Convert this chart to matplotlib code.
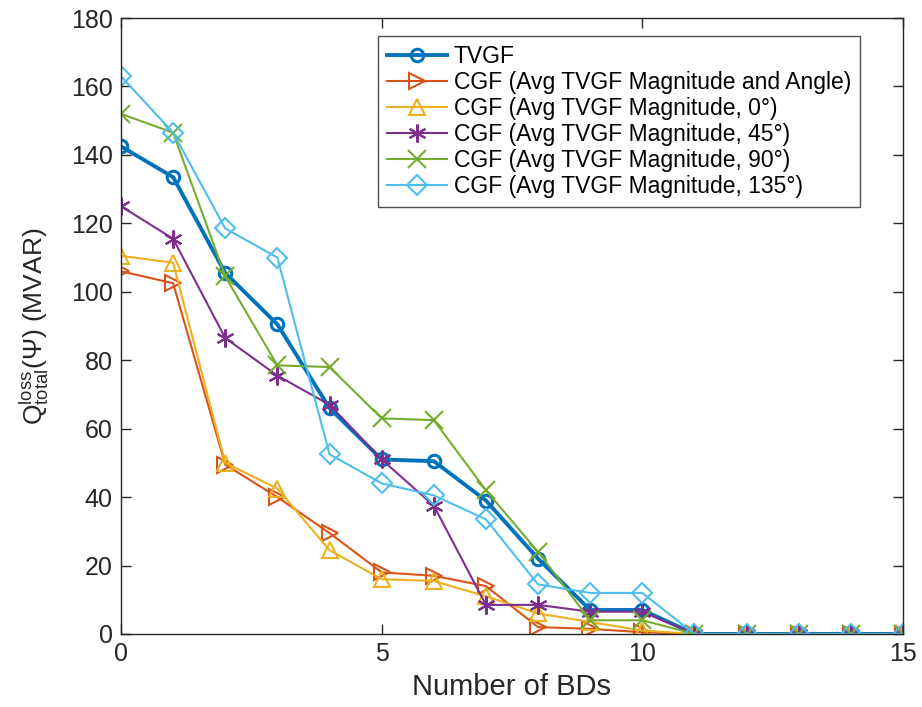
import matplotlib
matplotlib.use("Agg")
import matplotlib.pyplot as plt

# data
bds = list(range(16))
tvgf = [142.5, 133.5, 105.5, 90.5, 66, 51, 50.5, 39, 22, 7, 7, 0, 0, 0, 0, 0]
cgf_angle = [106, 102.5, 49.5, 40, 29.5, 18, 17, 14, 2, 1.5, 0.5, 0, 0, 0, 0, 0]
cgf_0 = [110.5, 108.5, 50, 42.5, 24.5, 16, 15.5, 11, 6, 3.5, 1, 0, 0, 0, 0, 0]
cgf_45 = [125, 115.5, 86.5, 75.5, 67, 51, 37.5, 8.5, 8.5, 6.5, 6.5, 0, 0, 0, 0, 0]
cgf_90 = [152, 146.5, 104.5, 78.5, 78, 63, 62.5, 42, 24, 4, 4, 0, 0, 0, 0, 0]
cgf_135 = [163, 146.5, 118.5, 110, 52.5, 44, 40.5, 33.5, 14.5, 12, 12, 0, 0, 0, 0, 0]

labels = ["TVGF",
          "CGF (Avg TVGF Magnitude and Angle)",
          "CGF (Avg TVGF Magnitude, 0°)",
          "CGF (Avg TVGF Magnitude, 45°)",
          "CGF (Avg TVGF Magnitude, 90°)",
          "CGF (Avg TVGF Magnitude, 135°)"]

plt.rcParams['font.family'] = ['Liberation Sans', 'DejaVu Sans']
plt.rcParams['mathtext.fontset'] = 'custom'
plt.rcParams['mathtext.rm'] = 'Liberation Sans'
plt.rcParams['mathtext.it'] = 'Liberation Serif:italic'

fig = plt.figure(figsize=(9.22, 7.07), dpi=100)
ax = fig.add_axes([0.1312, 0.1033, 0.8482, 0.8712])

series = [tvgf, cgf_angle, cgf_0, cgf_45, cgf_90, cgf_135]
colors = ["#0072BD", "#D95319", "#EDB120", "#7E2F8E", "#77AC30", "#4DBEEE"]
markers = ["o", ">", "^", "*", "x", "D"]
widths = [2.8, 1.5, 1.5, 1.5, 1.5, 1.5]
sizes = [9, 12, 12, 13, 13, 10]

for vals, c, m, lw, ms, lab in zip(series, colors, markers, widths, sizes, labels):
    if m == "*":
        ax.plot(bds, vals, color=c, lw=lw, marker=(6, 2, 0), ms=ms,
                mew=1.5, label=lab)
    elif m == "x":
        ax.plot(bds, vals, color=c, lw=lw, marker=m, ms=ms, mew=1.5,
                label=lab)
    else:
        ax.plot(bds, vals, color=c, lw=lw, marker=m, ms=ms, mfc="none",
                mew=2.2 if m == "o" else 1.5, label=lab)

ax.set_xlim(0, 15)
ax.set_ylim(0, 180)
ax.set_xticks([0, 5, 10, 15])
ax.set_yticks(range(0, 181, 20))
ax.tick_params(direction="in", length=7, width=1, labelsize=18, pad=6,
               top=True, right=True, colors="#262626")
for s in ax.spines.values():
    s.set_color("#262626")
    s.set_linewidth(1)

ax.set_xlabel("Number of BDs", fontsize=21, color="#262626", labelpad=5)
ax.set_ylabel(r"$\mathrm{Q}^{\mathrm{loss}}_{\mathrm{total}}(\mathit{\Psi})$ (MVAR)",
              fontsize=19, color="#262626", labelpad=14)

leg = ax.legend(loc="upper right", bbox_to_anchor=(0.945, 0.971), fontsize=16.5,
                frameon=True, fancybox=False, borderpad=0.4, labelspacing=0.13,
                handlelength=2.6, handletextpad=0.3, borderaxespad=0)
leg.get_frame().set_edgecolor("#262626")
leg.get_frame().set_linewidth(1)

fig.savefig("out.png", dpi=100)
